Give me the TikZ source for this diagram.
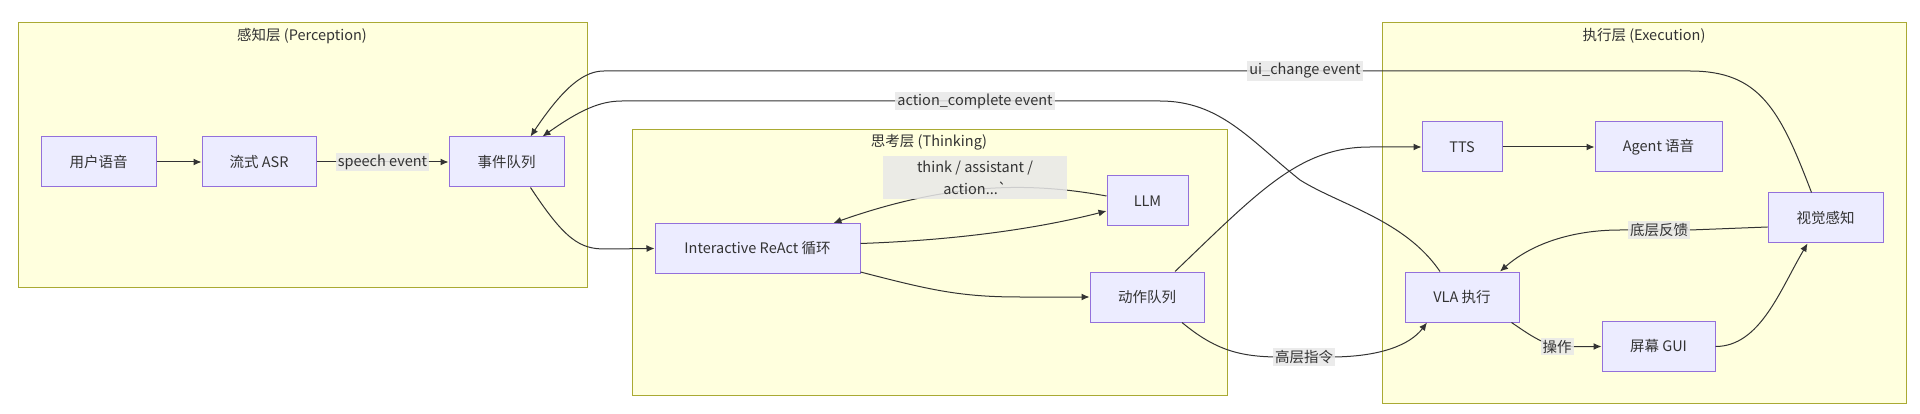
\documentclass[tikz,border=0pt]{standalone}
\usepackage{fontspec}
\setmainfont{Noto Sans CJK SC}
\usepackage{tikz}
\usetikzlibrary{arrows.meta}
\tikzset{>={Latex[length=8pt,width=7pt]}}
\definecolor{nodefill}{HTML}{ECECFF}
\definecolor{nodeline}{HTML}{9370DB}
\definecolor{layerfill}{HTML}{FFFFDE}
\definecolor{layerline}{HTML}{AAAA33}
\definecolor{ink}{HTML}{333333}
\definecolor{tagfill}{HTML}{E8E8E8}

\begin{document}
\begin{tikzpicture}[x=1pt,y=-1pt,font=\fontsize{14.5}{22}\selectfont]
      \tikzstyle{layer}=[draw=layerline,fill=layerfill,line width=1pt];
      \tikzstyle{box}=[draw=nodeline,fill=nodefill,line width=1pt,minimum height=50pt,text=ink];
      \tikzstyle{flow}=[->,draw=ink,line width=1pt];
      \tikzstyle{tag}=[fill=tagfill,fill opacity=.85,text opacity=1,text=ink,inner sep=2pt];
      \useasboundingbox (0,0) rectangle (1920,414);
      \fill[white] (0,0) rectangle (1920,414);

      % layers
      \draw[layer] (18,23) rectangle (587,287);
      \node[text=ink] (tperc) at (302,36) {感知层 (Perception)};
      \draw[layer] (632,130) rectangle (1227,395);
      \node[text=ink] (tthink) at (929,142) {思考层 (Thinking)};
      \draw[layer] (1382,23) rectangle (1906,403);
      \node[text=ink] (texec) at (1644,36) {执行层 (Execution)};

      % nodes
      \node[box,minimum width=115pt] (voice) at (98.5,162) {用户语音};
      \node[box,minimum width=114pt] (asr) at (259,162) {流式 ASR};
      \node[box,minimum width=115pt] (queue) at (506.5,162) {事件队列};
      \node[box,minimum width=205pt] (react) at (757.5,248.5) {Interactive ReAct 循环};
      \node[box,minimum width=81pt] (llm) at (1147.5,201) {LLM};
      \node[box,minimum width=114pt] (act) at (1147,297) {动作队列};
      \node[box,minimum width=80pt] (tts) at (1462,147) {TTS};
      \node[box,minimum width=127pt] (agent) at (1658.5,147) {Agent 语音};
      \node[box,minimum width=115pt] (vision) at (1825.5,218) {视觉感知};
      \node[box,minimum width=114pt] (vla) at (1462,297) {VLA 执行};
      \node[box,minimum width=113pt] (gui) at (1658.5,346.5) {屏幕 GUI};

      % edges
      \draw[flow] (voice) -- (asr);
      \draw[flow] (asr) -- node[tag] {speech event} (queue);
      \draw[flow] ([xshift=24pt]queue.south) .. controls (565,240) and (580,249) .. (605,249) -- (react.west);
      \draw[flow] ([yshift=5pt]react.east) .. controls (960,240) and (1040,228) .. ([yshift=-10pt]llm.west);
      \draw[flow] ([yshift=5pt]llm.west) .. controls (1030,182) and (950,182) .. ([xshift=76pt]react.north);
      \draw[flow] ([yshift=2pt]react.south east) .. controls (930,290) and (960,297) .. (1020,297) -- (act.west);
      \draw[flow] ([xshift=28pt]act.north) .. controls (1260,190) and (1300,147) .. (1370,147) -- (tts.west);
      \draw[flow] ([xshift=35pt]act.south) .. controls (1215,350) and (1240,357) .. (1280,357) -- (1330,357) .. controls (1380,357) and (1410,345) .. ([xshift=-35pt]vla.south);
      \draw[flow] (tts) -- (agent);
      \draw[flow] ([xshift=-8pt]vla.south east) .. controls (1530,335) and (1545,346.5) .. (1565,346.5) -- (gui.west);
      \draw[flow] (gui.east) .. controls (1760,346.5) and (1780,290) .. ([xshift=-18pt]vision.south);
      \draw[flow] ([yshift=-9pt]vision.west) -- (1690,230) -- (1620,230) .. controls (1570,230) and (1530,245) .. ([xshift=38pt]vla.north);
      \draw[flow] ([xshift=-14pt]vision.north) .. controls (1780,110) and (1760,71) .. (1690,71) -- (604,71) .. controls (585,71) and (565,85) .. ([xshift=24pt]queue.north);
      \draw[flow] ([xshift=-22pt]vla.north) .. controls (1405,220) and (1340,205) .. (1300,180) .. controls (1250,140) and (1220,101) .. (1160,101) -- (622,101) .. controls (600,101) and (580,110) .. ([xshift=36pt]queue.north);

      % edge labels
      \node[tag,align=center,minimum width=184pt,minimum height=43pt] (lthink) at (975,178) {think / assistant /\\action...\textasciigrave};
      \node[tag] (lui) at (1305,71) {ui\_change event};
      \node[tag] (ldone) at (975,101) {action\_complete event};
      \node[tag] (lhigh) at (1304,357) {高层指令};
      \node[tag] (lop) at (1557,346.5) {操作};
      \node[tag] (llow) at (1659,230) {底层反馈};
    \end{tikzpicture}
\end{document}
